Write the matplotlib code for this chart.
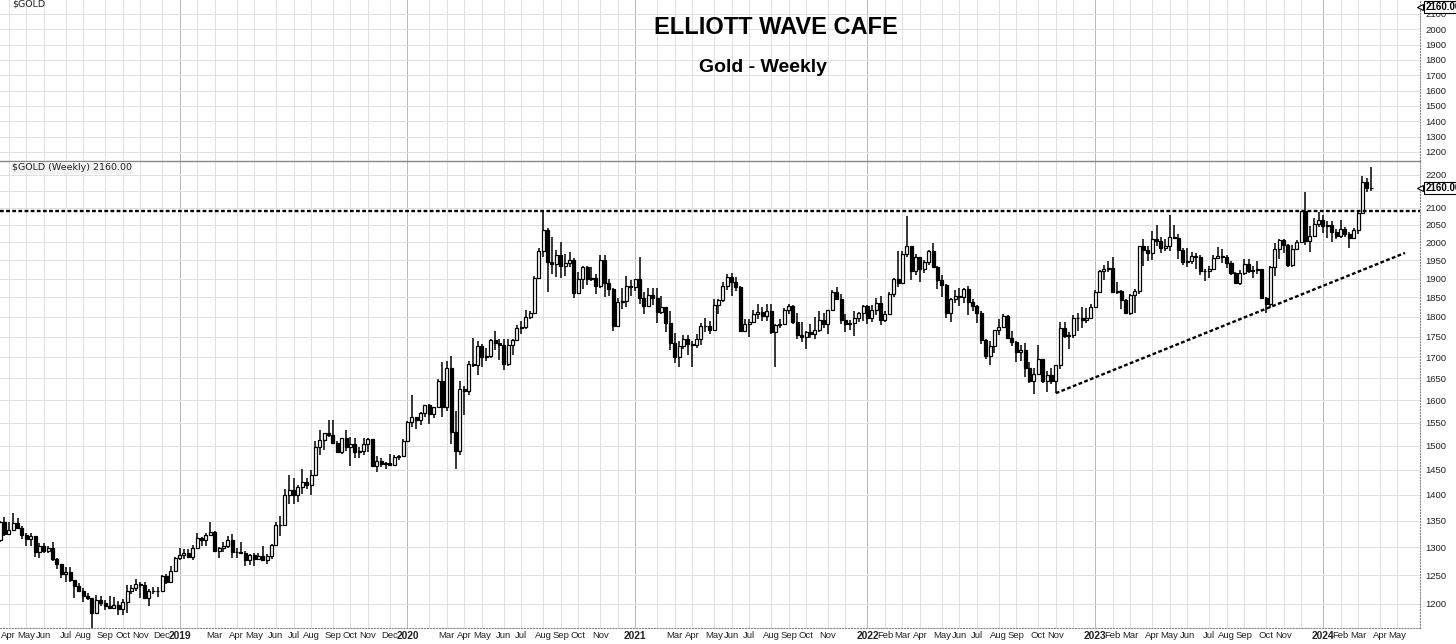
import pandas as pd
import numpy as np
import matplotlib
matplotlib.use("Agg")
import matplotlib.pyplot as plt
import matplotlib.dates as mdates
import matplotlib.transforms as mtransforms
from matplotlib.ticker import NullLocator

plt.rcParams['font.family'] = ['Liberation Sans', 'DejaVu Sans']

# Weekly candles, first bar = week ending Fri 2018-03-23
first_friday = "2018-03-23"

opens = [
    # 2018
    1313, 1347, 1325, 1332, 1345, 1336, 1323, 1315, 1320, 1292, 1302, 1294, 1298, 1279, 1269, 1252, 1255, 1241, 1231, 1223,
    1214, 1211, 1184, 1206, 1201, 1197, 1194, 1199, 1192, 1203, 1222, 1227, 1235, 1233, 1210, 1222, 1223, 1222, 1248, 1238, 1257,
    # 2019
    1281, 1286, 1289, 1282, 1298, 1318, 1314, 1322, 1328, 1294, 1298, 1302, 1313, 1292, 1291, 1290, 1276, 1286, 1279, 1285,
    1277, 1284, 1305, 1341, 1342, 1399, 1409, 1399, 1415, 1426, 1419, 1440, 1497, 1513, 1527, 1523, 1506, 1488, 1517, 1497,
    1505, 1488, 1490, 1505, 1514, 1459, 1468, 1462, 1464, 1460, 1476, 1478,
    # 2020
    1511, 1552, 1562, 1557, 1571, 1589, 1570, 1584, 1643, 1585, 1674, 1530, 1490, 1625, 1620, 1683, 1682, 1727, 1700, 1703,
    1743, 1735, 1730, 1685, 1730, 1743, 1771, 1775, 1799, 1810, 1902, 1975, 2035, 1944, 1940, 1964, 1933, 1941, 1950, 1862,
    1899, 1930, 1899, 1902, 1879, 1951, 1888, 1871, 1777, 1839, 1840, 1881,
    # 2021
    1877, 1898, 1849, 1829, 1856, 1848, 1813, 1824, 1784, 1734, 1700, 1727, 1745, 1733, 1729, 1744, 1777, 1778, 1768, 1831,
    1844, 1881, 1904, 1891, 1877, 1764, 1781, 1787, 1808, 1812, 1802, 1814, 1763, 1780, 1781, 1818, 1827, 1788, 1754, 1750,
    1761, 1757, 1768, 1793, 1783, 1818, 1864, 1846, 1792, 1783, 1784, 1798, 1810,
    # 2022
    1828, 1797, 1817, 1835, 1791, 1808, 1859, 1898, 1889, 1966, 1989, 1921, 1958, 1925, 1946, 1975, 1931, 1896, 1883, 1811,
    1846, 1853, 1851, 1871, 1839, 1827, 1811, 1742, 1703, 1727, 1766, 1775, 1802, 1747, 1738, 1712, 1717, 1675, 1644, 1661,
    1695, 1644, 1657, 1645, 1681, 1771, 1751, 1754, 1797, 1798, 1793, 1798,
    # 2023
    1824, 1865, 1920, 1926, 1928, 1865, 1866, 1842, 1811, 1856, 1868, 1988, 1978, 1969, 2008, 2004, 1983, 1990, 2016, 2011,
    1978, 1946, 1948, 1961, 1958, 1920, 1919, 1925, 1955, 1962, 1959, 1942, 1914, 1889, 1914, 1940, 1919, 1924, 1925, 1849,
    1833, 1932, 1981, 2006, 1993, 1938, 1981, 2002, 2089, 2004, 2019, 2053,
    # 2024
    2063, 2045, 2049, 2029, 2018, 2039, 2024, 2013, 2035, 2083, 2179, 2158,
]

highs = [
    # 2018
    1349, 1356, 1348, 1365, 1354, 1339, 1327, 1326, 1321, 1307, 1307, 1303, 1310, 1280, 1270, 1264, 1265, 1242, 1236, 1227,
    1219, 1211, 1215, 1214, 1206, 1214, 1212, 1205, 1208, 1233, 1233, 1243, 1237, 1237, 1225, 1230, 1230, 1250, 1252, 1267, 1283,
    # 2019
    1298, 1297, 1297, 1304, 1326, 1319, 1327, 1347, 1330, 1300, 1310, 1320, 1325, 1298, 1310, 1293, 1288, 1289, 1290, 1303,
    1287, 1306, 1348, 1358, 1411, 1439, 1434, 1419, 1453, 1434, 1449, 1510, 1535, 1528, 1555, 1557, 1510, 1518, 1535, 1519,
    1517, 1498, 1518, 1516, 1515, 1478, 1475, 1466, 1484, 1480, 1482, 1514,
    # 2020
    1553, 1611, 1563, 1573, 1590, 1591, 1584, 1649, 1689, 1692, 1703, 1575, 1645, 1632, 1690, 1747, 1739, 1733, 1722, 1745,
    1765, 1745, 1745, 1745, 1745, 1780, 1789, 1818, 1815, 1906, 1984, 2089, 2040, 2015, 1977, 2000, 1966, 1973, 1955, 1917,
    1933, 1933, 1932, 1911, 1965, 1965, 1898, 1875, 1848, 1875, 1906, 1895,
    # 2021
    1900, 1959, 1864, 1875, 1875, 1875, 1855, 1825, 1816, 1760, 1740, 1755, 1755, 1740, 1758, 1785, 1798, 1790, 1845, 1846,
    1890, 1913, 1916, 1903, 1880, 1795, 1795, 1818, 1834, 1825, 1832, 1832, 1782, 1795, 1823, 1834, 1830, 1809, 1787, 1765,
    1782, 1800, 1814, 1810, 1818, 1869, 1877, 1859, 1808, 1792, 1814, 1812, 1831,
    # 2022
    1831, 1830, 1848, 1853, 1815, 1865, 1902, 1974, 1974, 2076, 1990, 1966, 1960, 1950, 1979, 1998, 1935, 1910, 1885, 1848,
    1870, 1874, 1875, 1879, 1847, 1830, 1814, 1745, 1739, 1767, 1795, 1807, 1804, 1765, 1740, 1730, 1735, 1688, 1675, 1729,
    1697, 1668, 1675, 1682, 1786, 1786, 1763, 1805, 1810, 1824, 1823, 1833,
    # 2023
    1870, 1923, 1937, 1949, 1960, 1890, 1870, 1846, 1858, 1872, 1990, 2009, 1990, 2032, 2048, 2015, 2009, 2079, 2048, 2022,
    1985, 1983, 1972, 1970, 1963, 1926, 1935, 1964, 1987, 1982, 1965, 1947, 1917, 1922, 1953, 1953, 1933, 1947, 1926, 1851,
    1935, 1997, 2010, 2009, 1995, 1993, 2007, 2090, 2148, 2047, 2070, 2088,
    # 2024
    2078, 2062, 2062, 2037, 2065, 2042, 2030, 2041, 2088, 2195, 2189, 2225,
]

lows = [
    # 2018
    1309, 1321, 1323, 1330, 1334, 1316, 1302, 1302, 1282, 1281, 1289, 1290, 1275, 1261, 1245, 1237, 1237, 1211, 1221, 1204,
    1206, 1160, 1183, 1196, 1190, 1192, 1194, 1181, 1182, 1185, 1217, 1223, 1211, 1208, 1196, 1217, 1212, 1221, 1235, 1236, 1256,
    # 2019
    1277, 1279, 1280, 1276, 1298, 1303, 1302, 1320, 1291, 1280, 1291, 1298, 1281, 1280, 1287, 1266, 1268, 1267, 1276, 1275,
    1270, 1279, 1305, 1320, 1340, 1381, 1382, 1386, 1402, 1412, 1400, 1437, 1480, 1492, 1520, 1505, 1485, 1484, 1490, 1459,
    1474, 1475, 1480, 1487, 1456, 1446, 1456, 1452, 1458, 1458, 1471, 1476,
    # 2020
    1508, 1540, 1536, 1546, 1563, 1547, 1561, 1582, 1563, 1576, 1504, 1451, 1482, 1567, 1611, 1677, 1659, 1676, 1690, 1698,
    1717, 1693, 1670, 1680, 1705, 1740, 1757, 1770, 1795, 1808, 1900, 1960, 1863, 1911, 1903, 1902, 1906, 1931, 1848, 1860,
    1873, 1882, 1894, 1860, 1875, 1850, 1854, 1764, 1774, 1821, 1826, 1853,
    # 2021
    1866, 1834, 1808, 1826, 1831, 1785, 1808, 1761, 1717, 1687, 1676, 1719, 1705, 1678, 1723, 1731, 1763, 1757, 1765, 1808,
    1838, 1870, 1855, 1866, 1761, 1762, 1750, 1785, 1795, 1789, 1790, 1758, 1677, 1772, 1779, 1806, 1782, 1745, 1737, 1721,
    1746, 1745, 1763, 1771, 1758, 1815, 1845, 1781, 1761, 1766, 1753, 1786, 1789,
    # 2022
    1782, 1787, 1805, 1780, 1788, 1805, 1850, 1878, 1888, 1960, 1895, 1910, 1890, 1915, 1937, 1930, 1872, 1850, 1797, 1786,
    1836, 1828, 1836, 1805, 1816, 1785, 1733, 1697, 1681, 1711, 1754, 1772, 1745, 1727, 1688, 1691, 1654, 1640, 1614, 1660,
    1640, 1618, 1638, 1616, 1673, 1747, 1721, 1746, 1765, 1773, 1785, 1795,
    # 2023
    1822, 1862, 1897, 1917, 1862, 1860, 1819, 1809, 1804, 1810, 1860, 1934, 1949, 1950, 1990, 1969, 1974, 1976, 2009, 1952,
    1937, 1932, 1939, 1925, 1910, 1893, 1902, 1922, 1952, 1942, 1928, 1910, 1885, 1884, 1910, 1914, 1901, 1913, 1847, 1810,
    1823, 1908, 1954, 1970, 1931, 1932, 1977, 2001, 1993, 1973, 2015, 2044,
    # 2024
    2025, 2013, 2002, 2010, 2012, 2015, 1984, 2010, 2024, 2080, 2146, 2150,
]

closes = [
    # 2018
    1347, 1325, 1332, 1345, 1336, 1323, 1315, 1320, 1292, 1302, 1294, 1298, 1279, 1269, 1252, 1255, 1241, 1231, 1223, 1214,
    1211, 1184, 1206, 1201, 1197, 1194, 1199, 1192, 1203, 1222, 1227, 1235, 1233, 1210, 1222, 1223, 1222, 1248, 1238, 1257, 1281,
    # 2019
    1286, 1289, 1282, 1298, 1318, 1314, 1322, 1328, 1294, 1298, 1302, 1313, 1292, 1291, 1290, 1276, 1286, 1279, 1285, 1277,
    1284, 1305, 1341, 1342, 1399, 1409, 1399, 1415, 1426, 1419, 1440, 1497, 1513, 1527, 1523, 1506, 1488, 1517, 1497, 1505,
    1488, 1490, 1505, 1514, 1459, 1468, 1462, 1464, 1460, 1476, 1478, 1511,
    # 2020
    1552, 1562, 1557, 1571, 1589, 1570, 1584, 1643, 1585, 1674, 1530, 1490, 1625, 1620, 1683, 1682, 1727, 1700, 1703, 1743,
    1735, 1730, 1685, 1730, 1743, 1771, 1775, 1799, 1810, 1902, 1975, 2035, 1944, 1940, 1964, 1933, 1941, 1950, 1862, 1899,
    1930, 1899, 1902, 1879, 1951, 1888, 1871, 1777, 1839, 1840, 1881, 1877,
    # 2021
    1898, 1849, 1829, 1856, 1848, 1813, 1824, 1784, 1734, 1700, 1727, 1745, 1733, 1729, 1744, 1777, 1778, 1768, 1831, 1844,
    1881, 1904, 1891, 1877, 1764, 1781, 1787, 1808, 1812, 1802, 1814, 1763, 1780, 1781, 1818, 1827, 1788, 1754, 1750, 1761,
    1757, 1768, 1793, 1783, 1818, 1864, 1846, 1792, 1783, 1784, 1798, 1810, 1828,
    # 2022
    1797, 1817, 1835, 1791, 1808, 1859, 1898, 1889, 1966, 1989, 1921, 1958, 1925, 1946, 1975, 1931, 1896, 1883, 1811, 1846,
    1853, 1851, 1871, 1839, 1827, 1811, 1742, 1703, 1727, 1766, 1775, 1802, 1747, 1738, 1712, 1717, 1675, 1644, 1661, 1695,
    1644, 1657, 1645, 1681, 1771, 1751, 1754, 1797, 1798, 1793, 1798, 1824,
    # 2023
    1865, 1920, 1926, 1928, 1865, 1866, 1842, 1811, 1856, 1868, 1988, 1978, 1969, 2008, 2004, 1983, 1990, 2016, 2011, 1978,
    1946, 1948, 1961, 1958, 1920, 1919, 1925, 1955, 1962, 1959, 1942, 1914, 1889, 1914, 1940, 1919, 1924, 1925, 1849, 1833,
    1932, 1981, 2006, 1993, 1938, 1981, 2002, 2089, 2004, 2019, 2053, 2063,
    # 2024
    2045, 2049, 2029, 2018, 2039, 2024, 2013, 2035, 2083, 2179, 2158, 2160,
]

last_close = 2160.00
resistance_level = 2089
trend_dates = ["2022-11-04", "2024-05-15"]
trend_prices = [1616, 1970]

main_ticks = list(range(1200, 2201, 50))
hidden_main_labels = [2150]          # covered by the last-price flag
top_ticks = list(range(1200, 2101, 100))
first_month, last_month = "2018-04", "2024-05"
unlabeled_months = ["2019-02", "2020-02", "2020-12", "2021-02", "2021-12", "2022-12", "2023-12"]

# ---- layout ----
W, H = 1456, 644
fig = plt.figure(figsize=(W / 100, H / 100), dpi=100)
ax_top = fig.add_axes([0, 483 / H, 1420 / W, 161 / H])
ax = fig.add_axes([0, 16 / H, 1420 / W, 467 / H], sharex=ax_top)

dates = pd.date_range(first_friday, periods=len(closes), freq="W-FRI")
x = mdates.date2num(dates)
o = np.array(opens, dtype=float)
hgh = np.array(highs, dtype=float)
lw_ = np.array(lows, dtype=float)
c = np.array(closes, dtype=float)

ax.set_yscale('log')

# wicks then bodies
wick_lo = np.minimum.reduce([lw_, o, c])
wick_hi = np.maximum.reduce([hgh, o, c])
ax.vlines(x, wick_lo, wick_hi, color='black', lw=1.1, zorder=3)
up = c >= o
ax.bar(x, np.abs(c - o), bottom=np.minimum(o, c), width=4.8,
       color=np.where(up, 'white', 'black'), edgecolor='black', linewidth=0.9, zorder=4)

# resistance and trendline
ax.axhline(resistance_level, color='black', lw=1.7, ls=(0, (1.6, 1.0)), zorder=5)
ax.plot(mdates.date2num(pd.to_datetime(trend_dates)), trend_prices,
        color='black', lw=1.7, ls=(0, (1.6, 1.0)), zorder=5)

# ---- axes limits / ticks ----
ax.set_xlim(mdates.date2num(pd.Timestamp("2018-03-23")), mdates.date2num(pd.Timestamp("2024-06-08")))
ax.set_ylim(1160, 2243)
ax_top.set_ylim(1141, 2191)

months = pd.period_range(first_month, last_month, freq="M")
tick_pos, tick_lab, is_year = [], [], []
for m in months:
    d = m.start_time - pd.Timedelta(days=1) + pd.offsets.Week(weekday=4)
    tick_pos.append(mdates.date2num(d))
    if m.month == 1:
        tick_lab.append(str(m.year))
        is_year.append(True)
    else:
        tick_lab.append("" if str(m) in unlabeled_months else d.strftime("%b"))
        is_year.append(False)

ax.set_xticks(tick_pos)
ax.set_xticklabels(tick_lab)
for lab, yr in zip(ax.get_xticklabels(), is_year):
    if yr:
        lab.set_fontweight('bold')
        lab.set_fontsize(7.4)
    else:
        lab.set_fontsize(6.8)
    lab.set_color('#222222')
ax.tick_params(axis='x', length=0, pad=2.5)
ax_top.tick_params(axis='x', length=0, labelbottom=False)

ax.set_yticks(main_ticks)
ax.set_yticklabels(["" if t in hidden_main_labels else str(t) for t in main_ticks])
ax.yaxis.set_minor_locator(NullLocator())
ax.yaxis.tick_right()
ax.tick_params(axis='y', length=0, pad=4, labelsize=6.8, labelcolor='#222222')

ax_top.set_yticks(top_ticks)
ax_top.set_yticklabels([str(t) for t in top_ticks])
ax_top.yaxis.tick_right()
ax_top.tick_params(axis='y', length=0, pad=4, labelsize=6.8, labelcolor='#222222')

for a in (ax, ax_top):
    a.grid(True, color='#e0e0e0', lw=0.7, zorder=0)
    a.set_axisbelow(True)
    for gl, yr in zip(a.xaxis.get_gridlines(), is_year):
        if yr:
            gl.set_color('#b8b8b8')
    a.spines['left'].set_visible(False)
    a.spines['right'].set_linestyle(':')
    a.spines['right'].set_color('#888888')

ax.spines['bottom'].set_linestyle(':')
ax.spines['bottom'].set_color('#888888')
ax.spines['top'].set_color('#888888')
ax.spines['top'].set_linewidth(1.0)
ax_top.spines['top'].set_visible(False)
ax_top.spines['bottom'].set_visible(False)

# last price flags
for a, yv in ((ax, last_close), (ax_top, 2145)):
    tr = mtransforms.blended_transform_factory(a.transAxes, a.transData)
    a.annotate(f"{last_close:.2f}", xy=(1.0, yv), xycoords=tr, xytext=(4, 0),
               textcoords='offset points', ha='left', va='center', fontsize=7,
               fontweight='bold', annotation_clip=False, zorder=10,
               bbox=dict(boxstyle='square,pad=0.12', fc='white', ec='black', lw=0.8))
    a.plot([1.0], [yv], marker='<', ms=4, mfc='white', mec='black', mew=0.8,
           transform=tr, clip_on=False, zorder=11)

# panel labels
ax_top.text(12 / 1420, 1 - 4 / 161, "\\$GOLD", transform=ax_top.transAxes, ha='left', va='center',
            fontsize=6.8, family='DejaVu Sans', color='#222222')
ax.text(12 / 1420, 1 - 7 / 467, "\\$GOLD (Weekly) 2160.00", transform=ax.transAxes, ha='left',
        va='center', fontsize=6.8, family='DejaVu Sans', color='#222222', zorder=12,
        bbox=dict(boxstyle='square,pad=0.15', fc='#f2f2f2', ec='none'))

# titles
fig.text(776 / W, 1 - 28 / H, "ELLIOTT WAVE CAFE", ha='center', va='center',
         fontsize=17, fontweight='bold', color='black')
fig.text(763 / W, 1 - 67 / H, "Gold - Weekly", ha='center', va='center',
         fontsize=14, fontweight='bold', color='black')

fig.savefig("out.png", dpi=100, facecolor='white')
